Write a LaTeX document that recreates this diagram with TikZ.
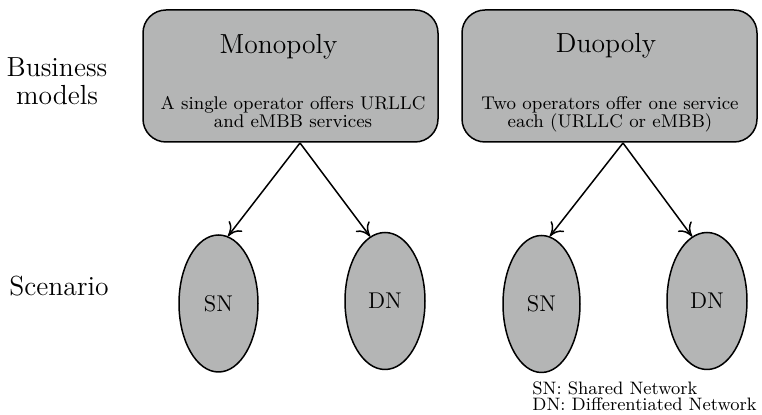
\documentclass[tikz,border=0pt]{standalone}
\usetikzlibrary{shapes.geometric,arrows.meta}
\definecolor{boxgray}{RGB}{180,181,181}
\begin{document}
\begin{tikzpicture}[x=0.5pt,y=-0.5pt,
  modelbox/.style={draw=black, line width=0.75pt, fill=boxgray, rectangle,
    rounded corners=11.5pt, minimum width=147.5pt, minimum height=66pt, inner sep=0pt},
  scen/.style={draw=black, line width=0.75pt, fill=boxgray, ellipse,
    minimum width=39.5pt, minimum height=68.5pt, inner sep=0pt,
    font=\fontsize{11.4}{13}\selectfont},
  bigtext/.style={inner sep=0pt, font=\fontsize{13.8}{14}\selectfont},
  desc/.style={inner sep=0pt, align=center, font=\fontsize{9.2}{9.1}\selectfont},
  legendtext/.style={inner sep=0pt, align=left, font=\fontsize{9}{8.2}\selectfont},
  conn/.style={line width=0.75pt, -{To[length=6.5pt,width=8.5pt]}}]
\useasboundingbox (0,0) rectangle (762,415);

% row labels
\node[bigtext, align=center, anchor=base] (bm) at (57,105) {Business\\models};
\node[bigtext, anchor=base] (sc) at (59,296) {Scenario};

% business model boxes
\node[modelbox] (mono) at (290.5,76) {};
\node[modelbox] (duo) at (609.5,76) {};
\node[bigtext, anchor=base] (monot) at (278.5,53.3) {Monopoly};
\node[bigtext, anchor=base] (duot) at (606,53) {Duopoly};
\node[desc, anchor=base] (monod) at (293,128) {A single operator offers URLLC\\and eMBB services};
\node[desc, anchor=base] (duod) at (610,128) {Two operators offer one service\\each (URLLC or eMBB)};

% scenarios
\node[scen, minimum width=39.5pt] (snM) at (218.5,303.5) {SN};
\node[scen, minimum width=40pt] (dnM) at (385,301) {DN};
\node[scen, minimum width=38.5pt] (snD) at (541.5,304) {SN};
\node[scen, minimum width=40pt] (dnD) at (707,301) {DN};

% connectors
\coordinate (apexM) at (300,143);
\coordinate (apexD) at (623,143);
\draw[conn] (apexM) -- (snM.82);
\draw[conn] (apexM) -- (dnM.103);
\draw[conn] (apexD) -- (snD.83);
\draw[conn] (apexD) -- (dnD.103);

% legend
\node[legendtext, anchor=base west] (leg) at (532,411) {SN: Shared Network\\DN: Differentiated Network};
\end{tikzpicture}
\end{document}
